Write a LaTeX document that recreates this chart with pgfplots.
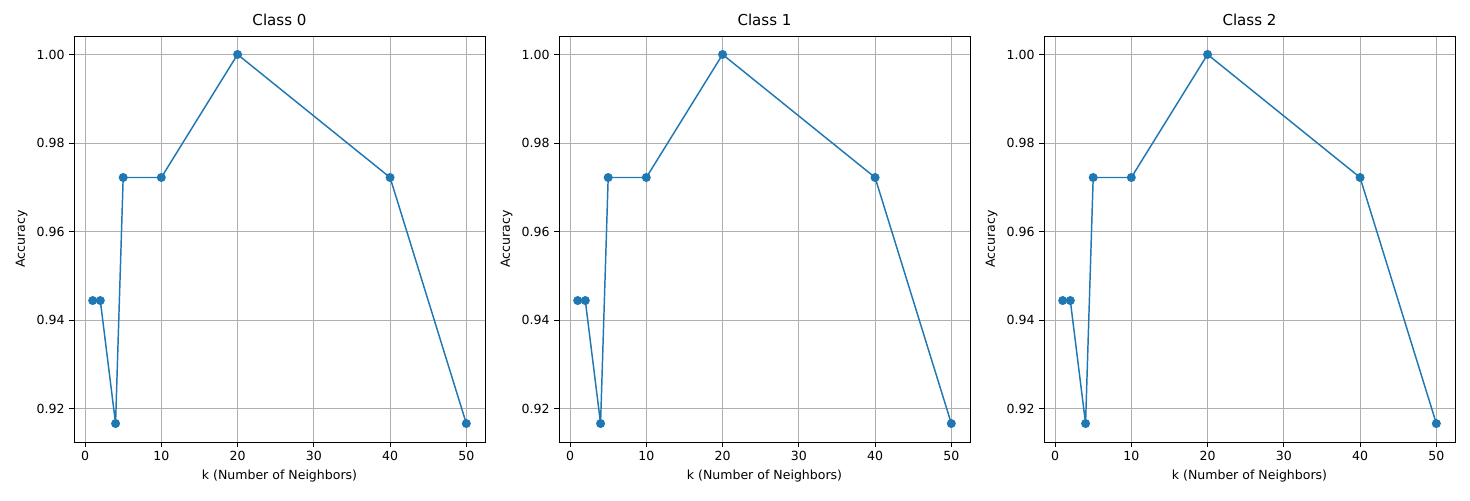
\documentclass[border=0pt]{standalone}
\usepackage{pgfplots}
\pgfplotsset{compat=1.18}
\usepackage{fontspec}
\setmainfont{DejaVu Sans}
\definecolor{mplblue}{HTML}{1F77B4}
\pgfplotstableread{
k acc
1 0.94444
2 0.94444
4 0.91667
5 0.97222
10 0.97222
20 1.00000
40 0.97222
50 0.91667
}\data
\pgfplotsset{myax/.style={
  scale only axis, width=308.25pt, height=304.5pt,
  xmin=-1.45, xmax=52.45, ymin=0.9125, ymax=1.00417,
  xtick={0,10,20,30,40,50},
  ytick={0.92,0.94,0.96,0.98,1.00},
  yticklabel style={/pgf/number format/.cd,fixed,fixed zerofill,precision=2},
  /pgf/number format/assume math mode=true,
  tick align=outside, tick style={black, line width=0.6pt},
  major tick length=3.5pt,
  ticklabel style={font=\fontsize{9.4}{11}\selectfont},
  label style={font=\fontsize{9.4}{11}\selectfont},
  title style={font=\fontsize{11.3}{13}\selectfont, yshift=-2pt},
  xmajorgrids, ymajorgrids, grid style={color=black!31, line width=0.6pt},
  axis line style={line width=0.6pt},
  xlabel={k (Number of Neighbors)}, ylabel={Accuracy},
  xtick pos=bottom, ytick pos=left,
}}
\begin{document}
\begin{tikzpicture}
\useasboundingbox (0,0) rectangle (1102.5pt,375pt);
\foreach \i/\x in {0/55.5pt,1/419.25pt,2/783pt}{
\begin{axis}[myax, at={(\x,43.5pt)}, anchor=south west, title={Class \i}]
\addplot[mplblue, line width=1.1pt, mark=*, mark size=2.8pt] table[x=k,y=acc]{\data};
\end{axis}
}
\end{tikzpicture}
\end{document}
